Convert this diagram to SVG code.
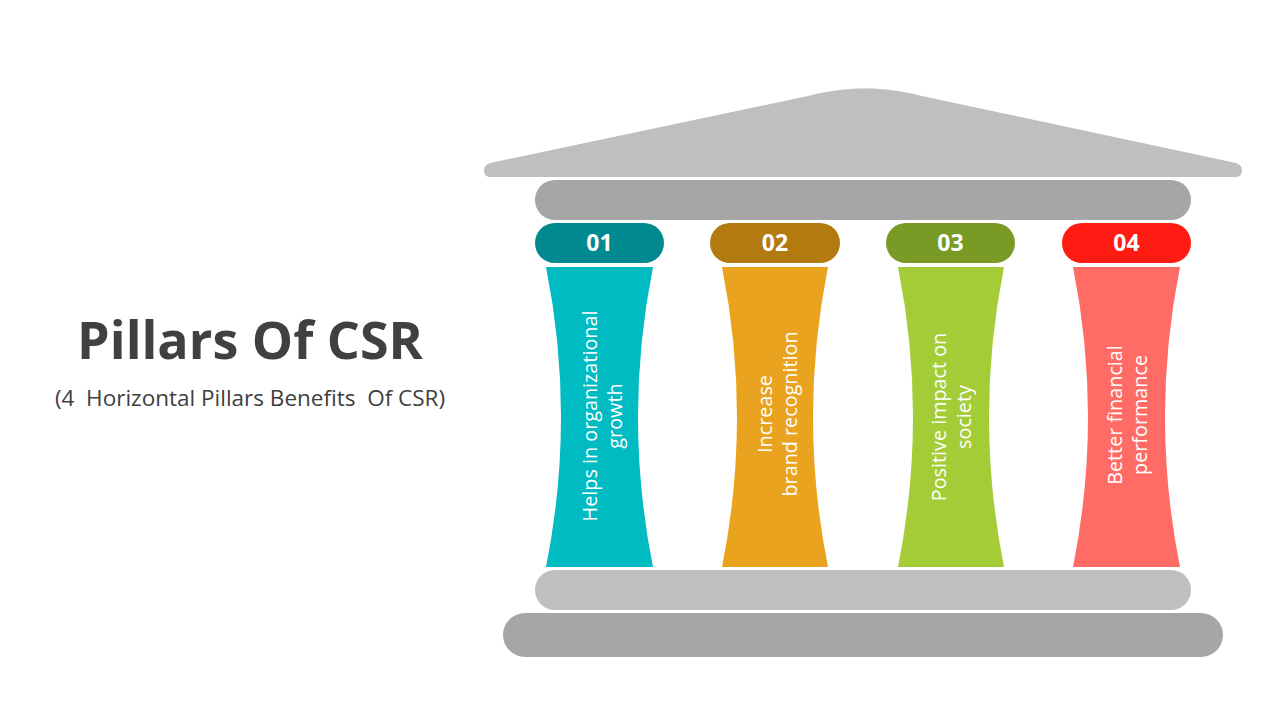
<svg xmlns="http://www.w3.org/2000/svg" width="1280" height="720" viewBox="0 0 1280 720">
<style>
.roof{fill:#BFBFBF}
.beamD{fill:#A6A6A6}
.beamL{fill:#BFBFBF}
.num{font-family:"Open Sans","Noto Sans",sans-serif;font-weight:700;font-size:23px;fill:#FFFFFF;text-anchor:middle}
.lbl{font-family:"Open Sans","Noto Sans",sans-serif;font-size:19.8px;fill:#FFFFFF;text-anchor:middle}
.title{font-family:"Open Sans","Noto Sans",sans-serif;font-weight:700;font-size:52px;fill:#404040;text-anchor:middle}
.sub{font-family:"Open Sans","Noto Sans",sans-serif;font-size:22.5px;fill:#404040;text-anchor:middle;white-space:pre}
</style>
<rect width="1280" height="720" fill="#FFFFFF"/>
<g id="title">
<text class="title" x="250" y="359">Pillars Of CSR</text>
<text class="sub" x="250" y="406" xml:space="preserve">(4  Horizontal Pillars Benefits  Of CSR)</text>
</g>
<g id="roof">
<path class="roof" d="M490,163 L808,96 C845,86 885,86 922,96 L1236,163 Q1242,165 1242,170 Q1242,177 1236,177 L490,177 Q484,177 484,170 Q484,165 490,163 Z"/>
</g>
<g id="top-beam"><rect class="beamD" x="535" y="180" width="656" height="40" rx="20" ry="20"/></g>
<g id="pillar-01">
<rect x="535" y="223" width="129" height="40" rx="20" fill="#00898F"/>
<text class="num" x="599.5" y="251">01</text>
<path d="M546,267 L653,267 Q623,417 653,567 L546,567 Q576,417 546,267 Z" fill="#00BBC2"/>
<text class="lbl" transform="translate(597,416) rotate(-90)"><tspan x="0" y="0">Helps in organizational</tspan><tspan x="0" y="25">growth</tspan></text>
</g>
<g id="pillar-02">
<rect x="710" y="223" width="130" height="40" rx="20" fill="#B37A10"/>
<text class="num" x="775" y="251">02</text>
<path d="M722,267 L828,267 Q798,417 828,567 L722,567 Q752,417 722,267 Z" fill="#E9A31E"/>
<text class="lbl" transform="translate(772,414) rotate(-90)"><tspan x="0" y="0">Increase</tspan><tspan x="0" y="25">brand recognition</tspan></text>
</g>
<g id="pillar-03">
<rect x="886" y="223" width="129" height="40" rx="20" fill="#7A9A26"/>
<text class="num" x="950.5" y="251">03</text>
<path d="M898,267 L1004,267 Q974,417 1004,567 L898,567 Q928,417 898,267 Z" fill="#A3CC37"/>
<text class="lbl" transform="translate(946,417) rotate(-90)"><tspan x="0" y="0">Positive impact on</tspan><tspan x="0" y="25">society</tspan></text>
</g>
<g id="pillar-04">
<rect x="1062" y="223" width="129" height="40" rx="20" fill="#FF1A12"/>
<text class="num" x="1126.5" y="251">04</text>
<path d="M1073,267 L1180,267 Q1150,417 1180,567 L1073,567 Q1103,417 1073,267 Z" fill="#FF6C66"/>
<text class="lbl" transform="translate(1122,415) rotate(-90)"><tspan x="0" y="0">Better financial</tspan><tspan x="0" y="25">performance</tspan></text>
</g>
<g id="base-upper"><rect class="beamL" x="535" y="570" width="656" height="40" rx="20" ry="20"/></g>
<g id="base-lower"><rect class="beamD" x="503" y="613" width="720" height="44" rx="22" ry="22"/></g>
<g id="connectors"></g>
</svg>
